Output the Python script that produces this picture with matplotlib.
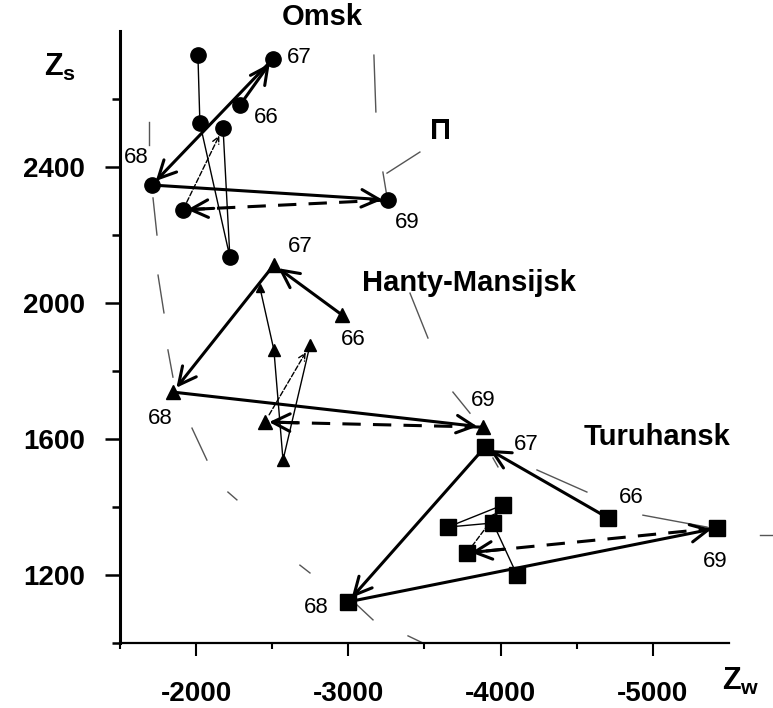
import numpy as np
import matplotlib.pyplot as plt

plt.rcParams['font.family'] = ['Liberation Sans', 'DejaVu Sans']
plt.rcParams['mathtext.fontset'] = 'custom'
plt.rcParams['mathtext.bf'] = 'Liberation Sans:bold'
plt.rcParams['mathtext.rm'] = 'Liberation Sans'
plt.rcParams['axes.unicode_minus'] = False

years = ['66', '67', '68', '69']

# годовые точки (66, 67, 68, 69)
omsk_x = [-2288, -2505, -1710, -3260]
omsk_y = [2582, 2718, 2347, 2303]
hanty_x = [-2958, -2511, -1848, -3884]
hanty_y = [1965, 2112, 1738, 1635]
turu_x = [-4705, -3897, -2998, -5421]
turu_y = [1368, 1576, 1121, 1338]

# тонкие ломаные
omsk_thin_x = [-2012, -2025, -2222, -2177]
omsk_thin_y = [2729, 2529, 2135, 2515]
hanty_thin_x = [-2420, -2511, -2571, -2748]
hanty_thin_y = [2044, 1862, 1538, 1876]
turu_thin_x = [-4016, -3654, -3950, -4108]
turu_thin_y = [1406, 1341, 1353, 1200]

# средние точки (пунктир к 69)
omsk_mean = (-1914, 2274)
hanty_mean = (-2452, 1650)
turu_mean = (-3779, 1265)

# серые штрихи (границы П)
grey_x = [(-1690, -1690), (-1717, -1743), (-1750, -1789), (-1815, -1848),
          (-1973, -2071), (-2209, -2268), (-2682, -2748), (-3057, -3162),
          (-3392, -3490), (-3168, -3181), (-3227, -3254), (-3254, -3470),
          (-3405, -3523), (-3687, -3799), (-3950, -3983), (-4239, -4567),
          (-4935, -5356), (-5704, -5789)]
grey_y = [(2532, 2465), (2309, 2200), (2082, 1971), (1862, 1782),
          (1632, 1538), (1444, 1421), (1229, 1206), (1112, 1068),
          (1021, 1000), (2729, 2562), (2385, 2312), (2382, 2444),
          (2029, 1897), (1738, 1676), (1544, 1518), (1509, 1444),
          (1376, 1341), (1318, 1318)]

cities = [
    ('Omsk', omsk_x, omsk_y, omsk_thin_x, omsk_thin_y, omsk_mean, 3, 'o', 11,
     [11, 11, 11, 11], [(19, -9), (19, 1), (-11, 20), (14, -16)], (-2827, 2841)),
    ('Hanty-Mansijsk', hanty_x, hanty_y, hanty_thin_x, hanty_thin_y, hanty_mean, 3, '^', 10,
     [6, 9, 9, 9], [(8, -18), (19, 13), (-9, -19), (0, 19)], (-3792, 2059)),
    ('Turuhansk', turu_x, turu_y, turu_thin_x, turu_thin_y, turu_mean, 0, 's', 12,
     [12, 12, 12, 12], [(17, 15), (30, 2), (-23, -4), (-1, -24)], (-5027, 1606)),
]

fig = plt.figure(figsize=(7.73, 7.08), dpi=100)
ax = fig.add_axes([0.1552, 0.0918, 0.7878, 0.8644])

for (gx, gy) in zip(grey_x, grey_y):
    ax.plot(gx, gy, color='#555555', lw=1.0, clip_on=False, zorder=1)

for name, xs, ys, tx, ty, mean, tip, mk, ms, tms, offs, lab in cities:
    # тонкие линии
    ax.plot(tx, ty, color='k', lw=1.0, zorder=2)
    for x, y, s in zip(tx, ty, tms):
        ax.plot(x, y, ls='none', marker=mk, ms=s, color='k', zorder=4)
    ax.annotate('', xy=(tx[tip], ty[tip]), xytext=mean,
                arrowprops=dict(arrowstyle='->', lw=1.0, ls='--', color='k',
                                shrinkA=6, shrinkB=6, mutation_scale=12), zorder=3)
    # толстый путь 66 -> 67 -> 68 -> 69
    for i in range(3):
        ax.annotate('', xy=(xs[i + 1], ys[i + 1]), xytext=(xs[i], ys[i]),
                    arrowprops=dict(arrowstyle='->,head_length=0.7,head_width=0.35',
                                    lw=2.2, color='k', shrinkA=0, shrinkB=4,
                                    mutation_scale=18), zorder=3)
    ax.plot(xs, ys, ls='none', marker=mk, ms=ms, color='k', zorder=4)
    # пунктир от 69 к среднему
    ax.plot([xs[3], mean[0]], [ys[3], mean[1]], color='k', lw=2.2,
            ls=(0, (6, 4)), zorder=3)
    px = mean[0] + 0.15 * (xs[3] - mean[0])
    py = mean[1] + 0.15 * (ys[3] - mean[1])
    ax.annotate('', xy=mean, xytext=(px, py),
                arrowprops=dict(arrowstyle='->,head_length=0.7,head_width=0.35',
                                lw=2.2, color='k', shrinkA=0, shrinkB=3,
                                mutation_scale=18), zorder=3)
    ax.plot(*mean, ls='none', marker=mk, ms=ms, color='k', zorder=4)
    for j in range(4):
        ax.annotate(years[j], (xs[j], ys[j]), xytext=offs[j], textcoords='offset points',
                    ha='center', va='center', fontsize=16, zorder=5,
                    annotation_clip=False)
    ax.text(lab[0], lab[1], name, ha='center', va='center', fontsize=21,
            fontweight='bold', clip_on=False)

ax.text(-3608, 2506, 'П', ha='center', va='center', fontsize=21, fontweight='bold')

ax.set_xlim(-1500, -5500)
ax.set_ylim(1000, 2800)
ax.set_xticks([-2000, -3000, -4000, -5000])
ax.set_xticks([-1500, -2500, -3500, -4500], minor=True)
ax.set_yticks([1200, 1600, 2000, 2400])
ax.set_yticks([1000, 1400, 1800, 2200, 2600], minor=True)

for s in ['top', 'right']:
    ax.spines[s].set_visible(False)
ax.spines['left'].set_linewidth(2.2)
ax.spines['bottom'].set_linewidth(1.6)

ax.tick_params(axis='x', which='major', direction='out', length=9, width=1.5, pad=18)
ax.tick_params(axis='x', which='minor', direction='out', length=4, width=1.5)
ax.tick_params(axis='y', which='major', direction='out', length=11, width=1.8, pad=14)
ax.tick_params(axis='y', which='minor', direction='out', length=6, width=1.8)
for t in ax.get_xticklabels() + ax.get_yticklabels():
    t.set_fontsize(20)
    t.set_fontweight('bold')

fig.text(0.0776, 0.9054, r'$\mathbf{Z_s}$', ha='center', va='center', fontsize=22)
fig.text(0.9586, 0.0381, r'$\mathbf{Z_w}$', ha='center', va='center', fontsize=22)

plt.savefig('out.png', dpi=100)
